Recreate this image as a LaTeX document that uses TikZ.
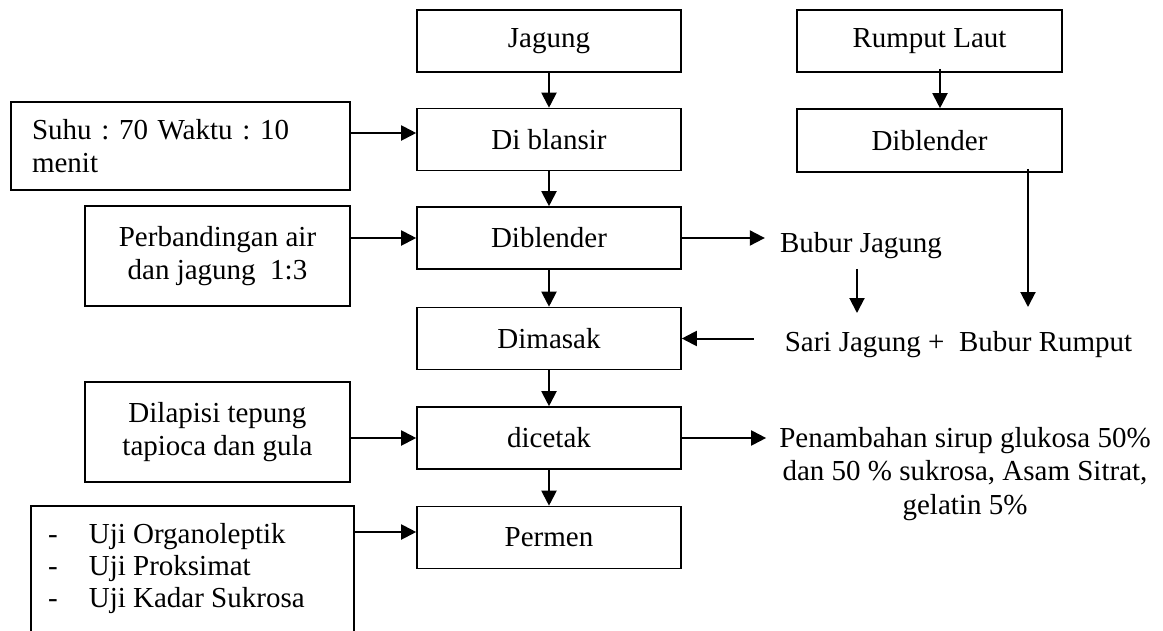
\documentclass[tikz,border=0pt]{standalone}
\usepackage{fontspec}
\setmainfont{Liberation Serif}
\usetikzlibrary{arrows.meta}
\frenchspacing
\begin{document}
\begin{tikzpicture}[x=1pt,y=-1pt,
  txt/.style={font=\fontsize{29}{33.5}\selectfont\frenchspacing},
  box/.style={txt, draw, line width=1.6pt, minimum width=264pt, minimum height=62pt, inner sep=0pt, align=center},
  lbl/.style={txt, inner sep=0pt, align=center},
  arr/.style={line width=2pt, -{Triangle[length=15pt,width=15pt]}}]
\clip (0,0) rectangle (1163,630);
% centre column
\node[box] (jagung)    at (549,41)    {Jagung};
\node[box] (blansir)   at (549,139.5) {Di blansir};
\node[box] (diblender) at (549,238)   {Diblender};
\node[box] (dimasak)   at (549,338.5) {Dimasak};
\node[box] (dicetak)   at (549,438)   {dicetak};
\node[box] (permen)    at (549,537.5) {Permen};
% right column
\node[box, minimum width=265pt] (rumput) at (929.5,41)    {Rumput Laut};
\node[box, minimum width=265pt, minimum height=63pt] (d2) at (929.5,140.5) {Diblender};
% left boxes
\node[box, minimum width=339pt, minimum height=88pt, text width=297pt, align=left] (suhu) at (180.5,146) {Suhu : 70 Waktu : 10\\menit};
\node[box, minimum width=265pt, minimum height=100pt] (perb) at (217.5,256) {Perbandingan air\\dan jagung \ 1:3};
\node[box, minimum width=265pt, minimum height=100pt] (dil) at (217.5,432) {Dilapisi tepung\\tapioca dan gula};
\node[box, anchor=north west, minimum width=323pt, minimum height=150pt] (uji) at (30,505) {};
\node[lbl, anchor=base west, font=\fontsize{29}{32}\selectfont] (ujilist) at (48,543.5)
  {\begin{tabular}[t]{@{}l@{\hspace{31pt}}l@{}}-&Uji Organoleptik\\-&Uji Proksimat\\-&Uji Kadar Sukrosa\end{tabular}};
% free labels
\node[lbl, anchor=base, inner xsep=15pt, inner ysep=10pt] (bj) at (861,252.5) {Bubur Jagung};
\node[lbl, anchor=base, inner xsep=31pt] (sari) at (958.5,351.5) {Sari Jagung + \ Bubur Rumput};
\node[lbl, inner xsep=13pt] (pen) at (965,474) {Penambahan sirup glukosa 50\%\\dan 50 \% sukrosa, Asam Sitrat,\\gelatin 5\%};
\coordinate (sjtop) at (857,313);
\coordinate (srtop) at (1028,307);
% arrows
\draw[arr] (jagung) -- (blansir);
\draw[arr] (blansir) -- (diblender);
\draw[arr] (diblender) -- (dimasak);
\draw[arr] (dimasak) -- (dicetak);
\draw[arr] (dicetak) -- (permen);
\draw[arr] ([xshift=10.5pt,yshift=4pt]rumput.south) -- ([xshift=10.5pt]d2.north);
\draw[arr] ([yshift=4pt]d2.south -| srtop) -- (srtop);
\draw[arr] (bj.south -| sjtop) -- (sjtop);
\draw[arr] (diblender.east) -- (diblender.east -| bj.west);
\draw[arr] (dimasak.east -| sari.west) -- (dimasak.east);
\draw[arr] (dicetak.east) -- (dicetak.east -| pen.west);
\draw[arr] ([yshift=6.5pt]blansir.west -| suhu.east) -- ([yshift=6.5pt]blansir.west);
\draw[arr] (diblender.west -| perb.east) -- (diblender.west);
\draw[arr] (dicetak.west -| dil.east) -- (dicetak.west);
\draw[arr] ([yshift=5.5pt]permen.west -| uji.east) -- ([yshift=5.5pt]permen.west);
\end{tikzpicture}
\end{document}
